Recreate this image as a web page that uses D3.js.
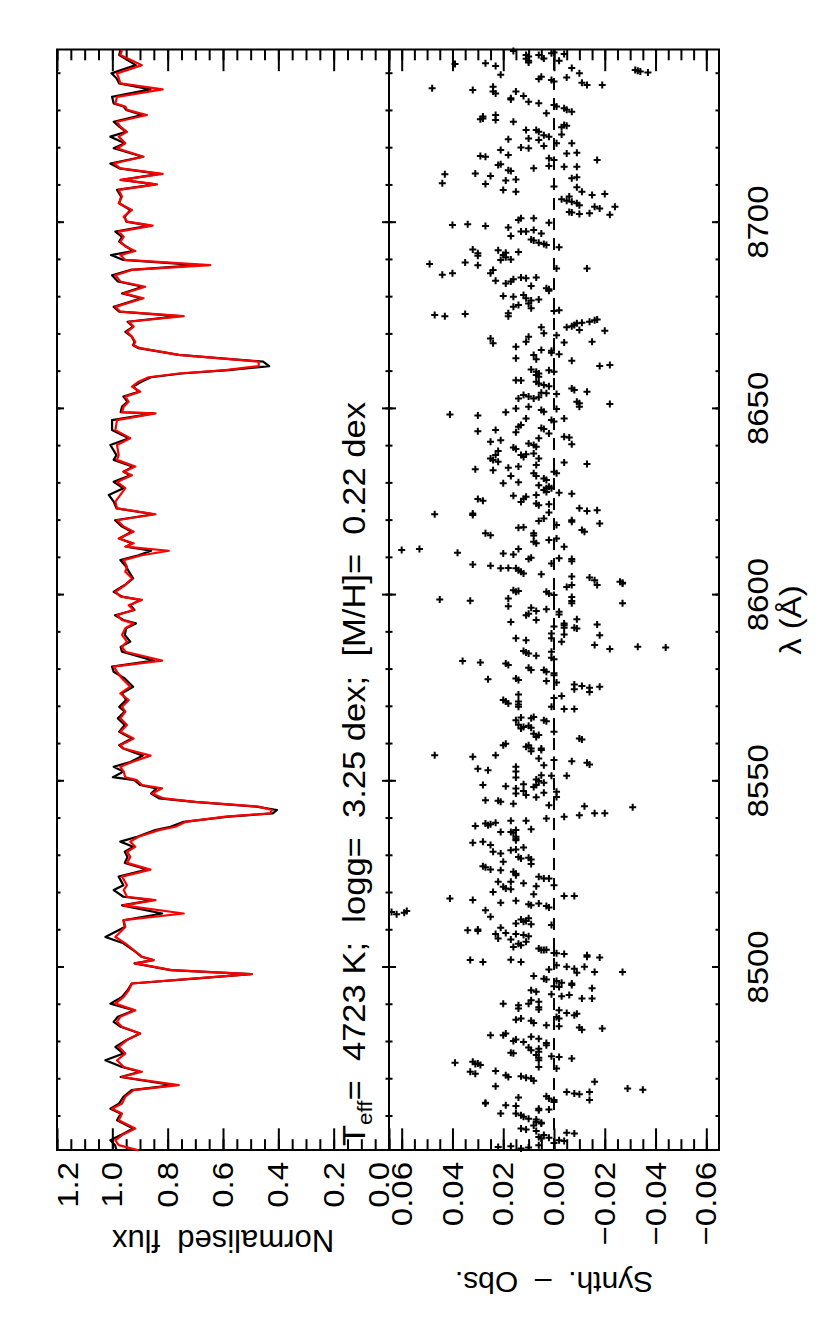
<!DOCTYPE html>
<html>
<head>
    <meta charset="utf-8">
    <title>Synthetic vs observed spectrum</title>
    <script src="https://d3js.org/d3.v7.min.js"></script>
    <style>
        body { margin: 0; background: #fff; }
        svg { display: block; }
        text { font-family: "Liberation Sans", Arial, sans-serif; fill: #000; }
    </style>
</head>
<body>
<script>
    var W = 830, H = 1329;

    // axis ticks
    var waveTicks = [8500, 8550, 8600, 8650, 8700];
    var fluxTicks = [0.0, 0.2, 0.4, 0.6, 0.8, 1.0, 1.2];
    var residTicks = [-0.06, -0.04, -0.02, 0.00, 0.02, 0.04, 0.06];

    var paramText = ["T", "eff", "=  4723 K;  logg=  3.25 dex;  [M/H]=  0.22 dex"];

    // [wavelength, synthetic flux, observed flux]
    var spectrum = [
        [8746.4,0.965,0.971],[8745.0,0.971,0.975],[8742.3,0.893,0.915],[8740.1,0.983,1.003],[8738.8,0.977,0.985],
        [8737.4,0.971,0.975],[8735.8,0.818,0.862],[8733.8,0.983,1.001],[8732.0,0.989,0.995],[8731.2,0.953,0.960],
        [8730.3,0.947,0.950],[8728.9,0.875,0.893],[8727.1,0.983,0.995],[8725.8,0.971,0.975],[8724.4,0.947,0.950],
        [8723.1,0.977,1.007],[8721.3,0.953,0.955],[8720.0,0.983,0.995],[8717.7,0.887,0.890],[8715.9,0.995,1.007],
        [8714.6,0.971,0.975],[8713.1,0.818,0.830],[8711.5,0.971,0.965],[8710.3,0.838,0.845],[8708.8,0.977,0.983],
        [8707.0,0.965,0.968],[8705.2,0.977,0.975],[8703.4,0.929,0.935],[8701.6,0.959,0.955],[8700.3,0.947,0.950],
        [8699.2,0.854,0.865],[8697.6,0.977,0.989],[8696.2,0.959,0.965],[8694.9,0.971,0.975],[8693.6,0.953,0.950],
        [8692.4,0.917,0.925],[8691.3,0.971,1.005],[8690.0,0.953,0.960],[8688.6,0.646,0.688],[8687.3,0.929,0.935],
        [8685.9,0.989,1.001],[8684.2,0.971,0.980],[8682.8,0.881,0.890],[8681.0,0.959,0.965],[8679.7,0.887,0.895],
        [8677.4,0.989,0.995],[8676.1,0.971,0.975],[8674.9,0.742,0.760],[8673.4,0.941,0.945],[8672.1,0.923,0.925],
        [8670.7,0.947,0.953],[8669.4,0.929,0.930],[8668.0,0.917,0.920],[8667.1,0.923,0.925],[8666.3,0.899,0.905],
        [8664.5,0.760,0.760],[8663.3,0.567,0.560],[8662.7,0.471,0.455],[8661.5,0.471,0.433],[8660.4,0.591,0.580],
        [8659.5,0.760,0.750],[8658.5,0.869,0.860],[8657.3,0.905,0.895],[8656.0,0.929,0.925],[8654.6,0.899,0.905],
        [8653.3,0.953,0.960],[8651.9,0.941,0.945],[8650.6,0.959,0.965],[8649.1,0.965,0.970],[8648.8,0.844,0.850],
        [8647.0,0.983,1.001],[8644.3,0.989,1.001],[8642.1,0.935,0.940],[8640.3,0.983,1.007],[8637.6,0.977,0.985],
        [8636.3,0.983,0.995],[8634.5,0.917,0.925],[8633.1,0.959,0.960],[8632.2,0.929,0.935],[8630.4,0.983,0.995],
        [8628.7,0.953,0.960],[8626.9,0.971,1.013],[8625.1,0.989,0.995],[8623.3,0.983,0.985],[8621.7,0.844,0.850],
        [8620.1,0.983,0.990],[8618.4,0.959,0.965],[8617.0,0.923,0.930],[8615.2,0.977,0.975],[8613.9,0.923,0.930],
        [8613.0,0.953,0.950],[8611.9,0.796,0.860],[8610.7,0.893,0.905],[8609.4,0.959,0.971],[8607.6,0.947,0.950],
        [8606.3,0.953,0.940],[8604.5,0.929,0.925],[8602.7,0.953,0.955],[8600.9,0.989,0.995],[8599.6,0.971,0.965],
        [8598.7,0.893,0.900],[8597.3,0.941,0.935],[8596.0,0.923,0.920],[8594.6,0.983,0.990],[8593.3,0.965,0.960],
        [8592.4,0.923,0.915],[8591.1,0.953,0.950],[8589.3,0.965,0.955],[8587.5,0.947,0.935],[8586.1,0.965,0.970],
        [8584.8,0.953,0.965],[8582.4,0.820,0.850],[8580.8,0.995,1.001],[8579.4,0.983,0.995],[8577.6,0.965,0.955],
        [8575.4,0.935,0.925],[8573.6,0.971,0.965],[8571.8,0.941,0.950],[8570.0,0.965,0.975],[8568.7,0.953,0.955],
        [8566.9,0.971,0.980],[8565.1,0.947,0.955],[8563.3,0.971,0.975],[8561.5,0.923,0.930],[8559.7,0.971,0.975],
        [8558.8,0.959,0.960],[8556.9,0.862,0.890],[8555.2,0.929,0.935],[8553.9,0.971,0.995],[8552.6,0.959,0.960],
        [8551.1,0.953,0.998],[8550.3,0.911,0.920],[8549.0,0.893,0.900],[8548.1,0.820,0.840],[8546.7,0.856,0.860],
        [8545.4,0.814,0.830],[8544.5,0.700,0.705],[8543.2,0.471,0.480],[8542.3,0.423,0.405],[8541.4,0.429,0.420],
        [8540.5,0.591,0.580],[8539.1,0.736,0.742],[8537.8,0.772,0.790],[8536.9,0.832,0.845],[8535.1,0.905,0.910],
        [8533.8,0.935,0.971],[8532.4,0.917,0.925],[8531.1,0.947,0.955],[8529.7,0.935,0.945],[8528.1,0.947,0.955],
        [8526.3,0.862,0.875],[8524.4,0.965,0.977],[8522.1,0.947,0.960],[8520.8,0.959,0.995],[8519.0,0.947,0.960],
        [8518.1,0.844,0.855],[8516.7,0.959,0.965],[8514.5,0.742,0.820],[8512.7,0.959,0.960],[8510.9,0.953,0.955],
        [8508.2,0.989,1.025],[8506.5,0.953,0.960],[8504.7,0.923,0.925],[8502.9,0.893,0.895],[8502.0,0.850,0.852],
        [8501.1,0.917,0.920],[8499.3,0.784,0.790],[8498.2,0.495,0.500],[8497.1,0.700,0.690],[8495.7,0.929,0.930],
        [8493.9,0.941,0.945],[8492.1,0.959,0.965],[8490.3,0.989,1.007],[8488.5,0.917,0.920],[8486.8,0.971,0.980],
        [8485.4,0.983,0.995],[8484.1,0.965,0.970],[8482.3,0.899,0.900],[8480.5,0.947,0.950],[8478.7,0.977,0.989],
        [8476.9,0.953,0.960],[8475.1,0.983,1.025],[8473.3,0.959,0.965],[8472.0,0.893,0.900],[8470.6,0.965,0.970],
        [8468.4,0.760,0.780],[8467.1,0.923,0.930],[8465.3,0.953,0.960],[8463.5,0.965,0.975],[8462.1,1.001,1.007],
        [8460.8,0.965,0.970],[8459.0,0.977,0.983],[8456.8,0.917,0.925],[8455.0,0.965,0.970],[8453.6,0.989,1.007],
        [8452.3,0.977,0.990],[8450.9,0.905,0.985]
    ];

    // [wavelength, synth - obs]
    var residuals = [
        [8746.1,0.016],[8745.0,0.011],[8744.6,0.010],[8744.0,0.011],[8743.5,0.010],[8743.0,0.010],[8745.0,0.006],[8744.1,0.004],
        [8745.5,0.001],[8745.7,0.000],[8743.5,-0.002],[8745.3,-0.004],[8742.6,0.039],[8742.8,0.027],[8742.1,0.023],[8741.0,-0.032],
        [8740.8,-0.033],[8740.6,-0.034],[8740.3,-0.037],[8741.5,-0.007],[8740.1,-0.010],[8739.0,-0.005],[8739.7,0.021],[8739.2,0.005],
        [8738.6,0.006],[8738.3,0.001],[8737.9,0.000],[8737.6,-0.011],[8737.0,-0.013],[8737.0,-0.019],[8736.1,0.048],[8735.6,0.032],
        [8736.5,0.024],[8735.2,0.024],[8734.7,0.023],[8735.2,0.015],[8734.0,0.012],[8733.4,0.017],[8733.1,0.017],[8732.5,0.010],
        [8732.1,0.006],[8731.6,0.000],[8731.2,-0.001],[8730.7,-0.004],[8730.3,-0.005],[8729.8,-0.007],[8729.4,0.003],[8728.5,0.028],
        [8728.0,0.028],[8727.8,0.029],[8728.9,0.023],[8727.6,0.023],[8727.1,0.016],[8726.2,-0.004],[8725.6,-0.003],[8726.0,-0.005],
        [8724.9,0.011],[8724.9,0.007],[8724.4,0.006],[8723.5,0.004],[8723.1,0.002],[8722.6,0.010],[8723.7,-0.003],[8722.4,0.018],
        [8722.2,0.006],[8721.3,-0.007],[8721.3,-0.001],[8720.6,0.004],[8720.2,0.013],[8720.0,0.010],[8719.5,0.021],[8718.6,-0.005],
        [8718.8,-0.009],[8718.2,0.018],[8717.9,0.029],[8717.7,0.027],[8717.3,0.002],[8716.8,0.000],[8716.8,-0.017],[8715.7,0.021],
        [8715.5,0.022],[8715.0,-0.004],[8715.0,-0.009],[8715.2,0.002],[8714.6,0.008],[8714.1,0.018],[8713.9,0.017],[8713.2,0.031],
        [8713.0,0.043],[8712.5,0.025],[8711.9,-0.007],[8712.2,-0.009],[8711.6,0.015],[8711.3,0.019],[8710.6,0.044],[8710.4,0.027],
        [8709.7,0.000],[8709.5,-0.009],[8708.8,0.020],[8708.3,0.015],[8708.3,-0.011],[8707.4,-0.015],[8707.7,-0.020],[8707.0,-0.006],
        [8706.3,-0.003],[8705.9,-0.005],[8705.6,-0.007],[8705.2,-0.009],[8704.7,-0.010],[8704.3,-0.016],[8703.8,-0.018],[8704.3,-0.024],
        [8702.9,-0.006],[8702.7,-0.007],[8702.3,-0.010],[8702.5,-0.014],[8702.1,-0.022],[8701.2,0.013],[8700.7,0.014],[8701.2,0.008],
        [8700.0,0.002],[8699.4,0.040],[8699.6,0.034],[8699.1,0.027],[8698.7,0.018],[8697.6,0.013],[8697.6,0.011],[8698.0,0.008],
        [8697.1,0.005],[8696.4,0.017],[8695.5,0.009],[8695.2,0.008],[8694.6,0.006],[8694.3,0.004],[8694.0,0.003],[8693.4,-0.002],
        [8692.8,0.032],[8691.8,0.030],[8691.1,0.030],[8692.6,0.022],[8691.9,0.019],[8691.3,0.020],[8690.7,0.019],[8690.0,0.021],
        [8690.1,0.017],[8692.1,0.014],[8688.9,0.049],[8689.3,0.035],[8688.6,0.030],[8687.7,-0.001],[8687.7,-0.013],[8687.3,0.024],
        [8686.4,0.025],[8686.0,0.044],[8686.4,0.040],[8685.3,0.013],[8684.8,0.016],[8684.2,0.017],[8683.7,0.019],[8684.4,0.023],
        [8685.1,0.011],[8685.3,0.007],[8682.4,0.003],[8682.1,0.002],[8681.7,0.002],[8683.0,0.009],[8680.3,0.020],[8680.1,0.016],
        [8680.6,0.012],[8679.7,0.011],[8679.1,0.009],[8678.3,0.010],[8677.9,0.014],[8677.4,0.016],[8677.0,0.009],[8679.4,0.006],
        [8676.3,0.000],[8676.5,-0.002],[8675.2,0.047],[8674.9,0.043],[8675.5,0.035],[8675.7,0.018],[8674.9,0.018],[8671.9,-0.005],
        [8672.2,-0.007],[8672.5,-0.008],[8673.0,-0.009],[8673.1,-0.011],[8673.4,-0.014],[8673.8,-0.016],[8674.0,-0.017],[8671.0,-0.020],
        [8671.2,-0.010],[8671.9,0.005],[8670.3,0.004],[8669.8,-0.001],[8668.9,0.025],[8667.6,0.024],[8669.4,0.010],[8668.0,0.011],
        [8667.8,-0.004],[8668.0,-0.015],[8666.7,0.015],[8665.8,0.005],[8665.6,0.001],[8665.1,0.001],[8664.7,-0.002],[8664.5,0.008],
        [8663.6,0.015],[8663.3,0.007],[8662.9,-0.007],[8661.5,-0.018],[8661.8,-0.022],[8660.6,0.009],[8660.0,0.007],[8659.5,0.006],
        [8660.4,0.002],[8660.0,0.000],[8659.1,0.007],[8658.6,0.006],[8657.7,0.015],[8657.6,0.013],[8657.3,0.007],[8656.8,0.006],
        [8656.4,0.004],[8656.1,0.002],[8655.5,-0.007],[8655.1,-0.008],[8654.6,-0.013],[8654.3,0.005],[8654.2,0.003],[8654.0,-0.001],
        [8653.7,0.012],[8653.3,0.010],[8652.8,0.014],[8653.1,0.006],[8652.8,0.008],[8651.9,-0.009],[8651.5,-0.010],[8651.3,-0.022],
        [8648.5,0.041],[8648.2,0.030],[8649.1,0.019],[8650.1,0.015],[8650.6,0.010],[8649.7,0.005],[8649.2,0.004],[8650.0,-0.001],
        [8650.6,-0.010],[8647.4,0.011],[8647.0,0.001],[8646.6,0.000],[8647.4,-0.004],[8645.7,0.013],[8645.2,0.014],[8644.0,0.030],
        [8644.3,0.023],[8643.7,0.015],[8644.9,0.005],[8644.6,0.004],[8643.4,0.002],[8642.5,-0.004],[8642.3,-0.006],[8640.5,-0.007],
        [8641.2,0.025],[8641.6,0.021],[8640.7,0.010],[8640.3,0.008],[8639.8,0.007],[8642.1,0.006],[8639.6,0.016],[8639.2,0.015],
        [8638.7,0.022],[8637.6,0.013],[8637.1,0.012],[8637.8,0.011],[8638.0,0.008],[8636.7,0.006],[8637.6,0.023],[8636.7,0.025],
        [8636.3,0.024],[8635.8,0.022],[8635.6,-0.004],[8635.2,-0.013],[8634.9,0.007],[8634.5,0.014],[8634.2,0.018],[8633.8,0.031],
        [8633.5,0.024],[8632.7,0.008],[8632.0,0.007],[8633.1,0.000],[8632.7,-0.001],[8632.0,0.017],[8631.3,0.004],[8630.9,0.003],
        [8630.3,0.014],[8630.0,0.020],[8629.5,0.006],[8629.1,0.002],[8628.7,0.003],[8628.2,0.004],[8627.7,0.003],[8628.7,0.001],
        [8627.5,-0.002],[8627.2,-0.007],[8626.7,0.016],[8625.8,0.030],[8625.3,0.028],[8626.4,0.011],[8625.9,0.012],[8625.0,0.013],
        [8626.9,0.007],[8624.6,0.007],[8624.1,0.006],[8624.4,0.002],[8623.3,-0.010],[8622.6,-0.013],[8622.8,-0.017],[8622.2,0.002],
        [8621.9,0.032],[8621.5,0.032],[8621.7,0.047],[8619.9,0.006],[8620.6,0.004],[8620.1,-0.007],[8619.7,-0.007],[8619.2,-0.018],
        [8618.8,-0.001],[8618.1,0.014],[8618.2,0.012],[8617.5,-0.011],[8617.0,-0.012],[8616.6,0.027],[8616.1,0.025],[8616.6,0.008],
        [8616.0,0.008],[8615.2,-0.001],[8614.8,0.002],[8614.3,0.008],[8613.9,0.007],[8613.0,-0.004],[8612.4,0.014],[8612.1,0.060],
        [8612.4,0.053],[8611.4,0.038],[8611.2,0.020],[8610.9,0.016],[8610.0,0.009],[8609.7,0.010],[8609.9,-0.002],[8609.7,-0.007],
        [8609.1,-0.007],[8608.5,0.001],[8608.2,0.032],[8607.9,0.025],[8607.2,0.021],[8607.3,0.018],[8607.2,0.015],[8606.7,0.014],
        [8606.3,0.013],[8605.8,0.012],[8605.6,0.005],[8605.0,-0.007],[8604.7,-0.014],[8604.0,-0.016],[8603.6,-0.026],[8603.1,-0.027],
        [8603.3,-0.027],[8602.7,-0.017],[8602.2,-0.005],[8602.7,-0.007],[8601.3,0.016],[8600.9,0.015],[8601.1,0.014],[8600.9,0.003],
        [8600.4,0.002],[8600.0,0.000],[8599.5,-0.007],[8599.1,0.018],[8598.8,0.045],[8598.5,0.033],[8598.4,-0.007],[8597.8,-0.007],
        [8597.8,-0.027],[8597.0,0.018],[8596.6,0.009],[8596.2,0.003],[8595.7,0.007],[8595.0,0.010],[8594.6,0.011],[8595.5,-0.002],
        [8594.8,-0.002],[8593.5,-0.009],[8593.3,0.007],[8592.8,0.017],[8592.4,-0.004],[8591.9,-0.004],[8591.2,-0.004],[8592.1,-0.017],
        [8591.6,0.000],[8591.0,-0.009],[8591.2,-0.008],[8589.7,0.001],[8589.4,-0.004],[8589.2,-0.018],[8588.4,0.015],[8587.9,0.011],
        [8588.4,0.001],[8587.5,-0.003],[8586.6,-0.016],[8586.1,-0.033],[8585.9,-0.044],[8585.5,-0.022],[8585.0,0.012],[8584.6,0.011],
        [8584.3,0.010],[8584.8,0.001],[8583.7,0.007],[8583.2,0.001],[8582.8,0.000],[8582.3,0.036],[8581.9,0.029],[8581.6,0.019],
        [8581.2,0.018],[8580.5,0.010],[8579.9,0.009],[8579.9,0.004],[8579.4,0.003],[8579.0,0.000],[8578.5,0.000],[8577.4,0.026],
        [8577.6,0.015],[8577.2,0.014],[8576.9,0.003],[8576.5,-0.001],[8576.0,-0.008],[8575.6,-0.011],[8575.1,-0.014],[8575.4,-0.018],
        [8574.7,-0.008],[8574.0,-0.014],[8573.3,0.014],[8572.9,-0.003],[8572.4,0.000],[8571.8,0.020],[8571.4,0.019],[8570.9,0.018],
        [8571.4,0.014],[8570.6,0.014],[8570.0,0.014],[8570.0,0.001],[8569.4,-0.004],[8569.4,-0.008],[8567.3,0.008],[8566.9,0.009],
        [8566.4,0.015],[8567.1,0.013],[8566.4,0.004],[8566.1,0.003],[8565.2,0.014],[8564.6,0.012],[8564.2,0.013],[8564.9,0.010],
        [8564.4,0.009],[8563.3,0.000],[8562.8,0.008],[8562.4,0.006],[8561.9,0.007],[8561.5,-0.010],[8561.2,-0.011],[8560.1,0.019],
        [8559.7,0.020],[8559.7,0.010],[8559.3,0.011],[8558.8,0.009],[8558.8,0.005],[8558.4,0.005],[8558.1,0.009],[8557.0,0.047],
        [8556.6,0.032],[8557.0,0.023],[8556.1,0.006],[8555.7,0.000],[8555.4,-0.007],[8555.0,-0.013],[8554.5,-0.014],[8554.3,0.004],
        [8553.4,0.030],[8553.0,0.026],[8553.9,0.015],[8552.6,0.015],[8551.6,0.005],[8551.5,0.001],[8551.5,-0.005],
        [8551.0,0.015],[8550.5,0.007],[8550.1,0.006],[8549.6,0.004],[8549.0,0.028],[8548.7,0.019],[8549.2,0.012],[8548.1,0.015],
        [8546.7,0.015],[8548.5,0.008],[8549.0,0.007],[8547.4,0.012],[8546.3,0.011],[8546.9,0.004],[8547.2,-0.001],[8545.7,0.007],
        [8545.8,-0.001],[8544.9,0.027],[8544.8,0.022],[8544.5,0.021],[8544.0,0.016],[8543.6,0.002],[8543.3,-0.012],[8543.0,-0.031],
        [8541.4,-0.020],[8541.4,-0.016],[8540.9,-0.010],[8540.5,-0.004],[8540.0,0.003],[8539.4,0.017],[8539.4,0.011],[8538.7,0.027],
        [8538.2,0.026],[8538.5,0.025],[8538.9,0.023],[8538.0,0.031],[8536.9,0.015],[8536.4,0.017],[8536.4,0.021],[8537.1,0.009],
        [8536.2,0.016],[8535.1,0.015],[8534.6,0.015],[8534.2,0.015],[8533.5,0.032],[8533.8,0.028],[8532.9,0.025],[8532.2,0.012],
        [8531.7,0.015],[8531.5,0.017],[8531.1,0.024],[8530.6,0.021],[8529.7,0.014],[8529.3,0.013],[8529.5,0.010],[8529.0,0.009],
        [8528.4,0.020],[8527.8,0.009],[8527.2,0.028],[8526.9,0.027],[8526.3,0.025],[8526.1,0.021],[8525.7,0.016],[8525.2,0.015],
        [8524.8,0.015],[8524.4,0.006],[8523.9,0.004],[8523.9,0.002],[8523.0,0.022],[8522.6,0.012],[8523.0,0.017],[8522.1,0.000],
        [8521.7,0.020],[8521.2,0.019],[8521.0,0.017],[8521.8,0.007],[8520.3,0.024],[8519.7,0.008],[8519.2,-0.004],[8519.2,-0.008],
        [8518.5,0.041],[8518.1,0.032],[8517.9,0.015],[8517.4,0.021],[8517.0,0.010],[8516.7,0.009],[8517.2,0.006],[8516.5,0.003],
        [8516.1,0.002],[8515.4,0.027],[8514.9,0.064],[8514.3,0.062],[8514.7,0.059],[8515.2,0.058],[8513.6,0.025],[8512.9,0.013],
        [8512.3,0.012],[8512.5,0.011],[8513.2,0.010],[8511.8,0.015],[8511.6,0.009],[8511.4,0.001],[8510.7,0.021],[8510.2,0.030],
        [8509.8,0.030],[8510.0,0.034],[8509.3,0.019],[8509.0,0.023],[8508.7,0.012],[8508.4,0.010],[8509.0,0.015],[8507.8,0.022],
        [8507.5,0.017],[8506.9,0.011],[8506.4,0.014],[8505.5,0.016],[8506.0,0.013],[8505.1,0.006],[8504.7,0.005],[8504.7,0.004],
        [8504.8,0.003],[8503.9,0.000],[8503.8,-0.001],[8503.6,-0.004],[8503.3,-0.013],[8502.7,-0.018],[8502.9,-0.013],[8502.0,0.033],
        [8501.5,0.028],[8502.1,0.017],[8501.5,0.013],[8500.6,-0.001],[8500.2,-0.005],[8499.7,-0.008],[8500.2,-0.012],[8498.8,-0.016],
        [8498.6,-0.009],[8499.5,0.002],[8498.8,-0.027],[8497.7,0.008],[8497.0,0.004],[8496.8,0.003],[8496.4,-0.001],[8495.9,-0.003],
        [8495.7,-0.007],[8495.3,-0.007],[8495.0,0.000],[8494.8,-0.002],[8494.4,-0.015],[8493.9,0.009],[8493.5,0.007],[8492.8,0.001],
        [8492.3,-0.003],[8492.6,-0.006],[8491.7,-0.011],[8491.7,-0.015],[8491.2,0.009],[8490.8,0.006],[8490.3,0.010],[8490.3,0.020],
        [8489.9,0.014],[8489.0,0.014],[8489.3,0.006],[8488.7,0.006],[8488.5,-0.002],[8487.8,-0.005],[8487.2,-0.008],[8487.6,-0.009],
        [8486.3,-0.002],[8486.7,-0.001],[8486.0,0.015],[8486.3,0.013],[8485.7,0.009],[8485.1,0.008],[8484.5,0.003],[8484.2,-0.002],
        [8483.9,-0.010],[8483.3,-0.011],[8483.6,-0.019],[8481.8,0.025],[8481.8,0.020],[8482.3,0.019],[8480.7,0.015],[8480.3,0.016],
        [8480.0,0.012],[8481.4,0.009],[8480.9,0.006],[8479.7,0.003],[8479.1,0.003],[8478.5,0.010],[8477.8,0.009],[8478.2,0.006],
        [8477.1,0.017],[8477.0,0.016],[8477.4,0.006],[8476.5,0.007],[8475.8,0.006],[8476.2,0.001],[8476.0,-0.002],[8475.6,-0.007],
        [8475.1,0.006],[8474.4,0.039],[8474.7,0.032],[8474.2,0.030],[8473.8,0.029],[8474.1,0.031],[8472.9,-0.001],[8473.3,0.006],
        [8472.0,0.033],[8471.5,0.031],[8472.2,0.023],[8471.1,0.019],[8470.6,0.018],[8470.8,0.013],[8470.4,0.011],[8470.2,0.009],
        [8469.6,0.008],[8469.3,-0.016],[8468.1,0.023],[8467.5,-0.029],[8467.2,-0.035],[8466.6,-0.005],[8466.2,-0.008],[8466.0,-0.010],
        [8466.6,-0.014],[8464.4,-0.014],[8465.4,0.003],[8464.8,0.002],[8465.1,0.014],[8464.4,0.000],[8463.9,0.000],[8463.7,0.027],
        [8463.5,0.027],[8463.0,0.019],[8462.8,0.015],[8462.1,0.006],[8461.7,0.006],[8461.9,0.002],[8460.8,0.021],[8460.8,0.015],
        [8460.3,0.013],[8459.9,0.012],[8459.4,0.010],[8459.2,0.007],[8458.6,0.007],[8458.3,0.005],[8458.1,0.005],[8457.6,0.008],
        [8456.8,0.013],[8456.5,0.011],[8456.1,0.007],[8455.6,-0.005],[8455.4,-0.008],[8455.0,0.004],[8454.5,0.006],[8454.1,0.005],
        [8454.3,0.002],[8453.6,-0.002],[8453.4,-0.004],[8452.9,0.000],[8452.3,0.006],[8451.8,0.022],[8452.0,0.017],[8451.4,0.013],
        [8451.7,0.010]
    ];

    var font = "Liberation Sans, Arial, sans-serif";
    var stretch = 1.1; // the original lettering is a little wider than Liberation Sans

    var svg = d3.select("body")
        .append("svg")
        .attr("width", W)
        .attr("height", H);

    // the figure is laid out in landscape and turned a quarter turn anticlockwise
    var g = svg.append("g")
        .attr("transform", "translate(0," + H + ") rotate(-90)");

    // landscape frame: wavelength runs left->right, flux panel above, residuals below
    var pLeft = 179, pRight = 1279.5, pTop = 57, pMid = 389, pBottom = 719;

    var x = d3.scaleLinear().domain([8451, 8746.5]).range([pLeft, pRight]);
    var yF = d3.scaleLinear().domain([0, 1.2]).range([pMid, pTop]);
    var yR = d3.scaleLinear().domain([-0.065, 0.065]).range([pBottom, pMid]);

    function addAxis(axis, tx, ty) {
        var a = g.append("g")
            .attr("transform", "translate(" + tx + "," + ty + ")")
            .call(axis);
        a.select(".domain").remove();
        a.attr("font-size", 30).attr("font-family", font);
        a.selectAll("line").attr("stroke-width", 2);
        a.selectAll("text").each(function () {
            var t = d3.select(this);
            t.attr("x", (+t.attr("x") || 0) / stretch)
                .attr("transform", "scale(" + stretch + ",1)");
        });
        return a;
    }

    var waveMinor = d3.range(8460, 8741, 10);
    var fluxMinor = d3.range(0, 1.21, 0.05);
    var residMinor = d3.range(-0.06, 0.061, 0.005);
    var none = function () { return ""; };

    // wavelength ticks on the outer edges and on the panel divider
    addAxis(d3.axisBottom(x).tickValues(waveTicks).tickSize(-7).tickPadding(28).tickFormat(d3.format("d")), 0, pBottom);
    addAxis(d3.axisBottom(x).tickValues(waveMinor).tickSize(-3.5).tickFormat(none), 0, pBottom);
    addAxis(d3.axisBottom(x).tickValues(waveTicks).tickSize(-7).tickFormat(none), 0, pMid);
    addAxis(d3.axisBottom(x).tickValues(waveMinor).tickSize(-3.5).tickFormat(none), 0, pMid);
    addAxis(d3.axisTop(x).tickValues(waveTicks).tickSize(-7).tickFormat(none), 0, pMid);
    addAxis(d3.axisTop(x).tickValues(waveMinor).tickSize(-3.5).tickFormat(none), 0, pMid);
    addAxis(d3.axisTop(x).tickValues(waveTicks).tickSize(-7).tickFormat(none), 0, pTop);
    addAxis(d3.axisTop(x).tickValues(waveMinor).tickSize(-3.5).tickFormat(none), 0, pTop);

    // flux ticks
    var fluxAxis = addAxis(d3.axisLeft(yF).tickValues(fluxTicks).tickSize(-21.7).tickPadding(12).tickFormat(d3.format(".1f")), pLeft, 0);
    addAxis(d3.axisLeft(yF).tickValues(fluxMinor).tickSize(-10.8).tickFormat(none), pLeft, 0);
    addAxis(d3.axisRight(yF).tickValues(fluxTicks).tickSize(-21.7).tickFormat(none), pRight, 0);
    addAxis(d3.axisRight(yF).tickValues(fluxMinor).tickSize(-10.8).tickFormat(none), pRight, 0);
    // end labels sit inside the panel span
    fluxAxis.selectAll(".tick text").filter(function (d) { return d === 1.2; }).attr("y", 10.5);
    fluxAxis.selectAll(".tick text").filter(function (d) { return d === 0; }).attr("y", -10);

    // residual ticks
    addAxis(d3.axisLeft(yR).tickValues(residTicks).tickSize(-21.7).tickPadding(12).tickFormat(d3.format(".2f")), pLeft, 0);
    addAxis(d3.axisLeft(yR).tickValues(residMinor).tickSize(-10.8).tickFormat(none), pLeft, 0);
    addAxis(d3.axisRight(yR).tickValues(residTicks).tickSize(-21.7).tickFormat(none), pRight, 0);
    addAxis(d3.axisRight(yR).tickValues(residMinor).tickSize(-10.8).tickFormat(none), pRight, 0);

    // frame
    g.append("rect")
        .attr("x", pLeft).attr("y", pTop)
        .attr("width", pRight - pLeft).attr("height", pBottom - pTop)
        .attr("fill", "none").attr("stroke", "#000").attr("stroke-width", 2);
    g.append("line")
        .attr("x1", pLeft).attr("x2", pRight)
        .attr("y1", pMid).attr("y2", pMid)
        .attr("stroke", "#000").attr("stroke-width", 2);

    // spectra: observed in black, synthetic in red on top
    var obsLine = d3.line()
        .x(function (d) { return x(d[0]); })
        .y(function (d) { return yF(d[2]); });
    var synLine = d3.line()
        .x(function (d) { return x(d[0]); })
        .y(function (d) { return yF(d[1]); });

    g.append("path").datum(spectrum)
        .attr("d", obsLine)
        .attr("fill", "none").attr("stroke", "#000").attr("stroke-width", 2.2)
        .attr("stroke-linejoin", "round");
    g.append("path").datum(spectrum)
        .attr("d", synLine)
        .attr("fill", "none").attr("stroke", "#ff0000").attr("stroke-width", 2.2)
        .attr("stroke-linejoin", "round");

    // zero line of the residuals
    g.append("line")
        .attr("x1", pLeft).attr("x2", pRight)
        .attr("y1", yR(0)).attr("y2", yR(0))
        .attr("stroke", "#000").attr("stroke-width", 2)
        .attr("stroke-dasharray", "12,8");

    // residual points as plus signs
    g.selectAll(".resid")
        .data(residuals)
        .enter()
        .append("path")
        .attr("class", "resid")
        .attr("transform", function (d) { return "translate(" + x(d[0]) + "," + yR(d[1]) + ")"; })
        .attr("d", "M-3.5,0H3.5M0,-3.5V3.5")
        .attr("stroke", "#000").attr("stroke-width", 2);

    // axis titles
    g.append("text")
        .attr("transform", "translate(99," + ((pTop + pMid) / 2) + ") rotate(-90)")
        .attr("text-anchor", "middle")
        .attr("font-size", 31)
        .style("white-space", "pre")
        .text("Normalised  flux");
    g.append("text")
        .attr("transform", "translate(57," + ((pMid + pBottom) / 2) + ") rotate(-90)")
        .attr("text-anchor", "middle")
        .attr("font-size", 30)
        .style("white-space", "pre")
        .text("Synth.  \u2013  Obs.");
    g.append("text")
        .attr("transform", "translate(709,801) scale(" + stretch + ",1)")
        .attr("text-anchor", "middle")
        .attr("font-size", 30)
        .text("\u03bb (\u00c5)");

    // stellar parameters
    var p = g.append("text")
        .attr("transform", "translate(183,365) scale(1.115,1)")
        .attr("font-size", 31)
        .style("white-space", "pre");
    p.append("tspan").text(paramText[0]);
    p.append("tspan").attr("font-size", 20).attr("dy", 7).text(paramText[1]);
    p.append("tspan").attr("dy", -7).text(paramText[2]);
</script>
</body>
</html>
